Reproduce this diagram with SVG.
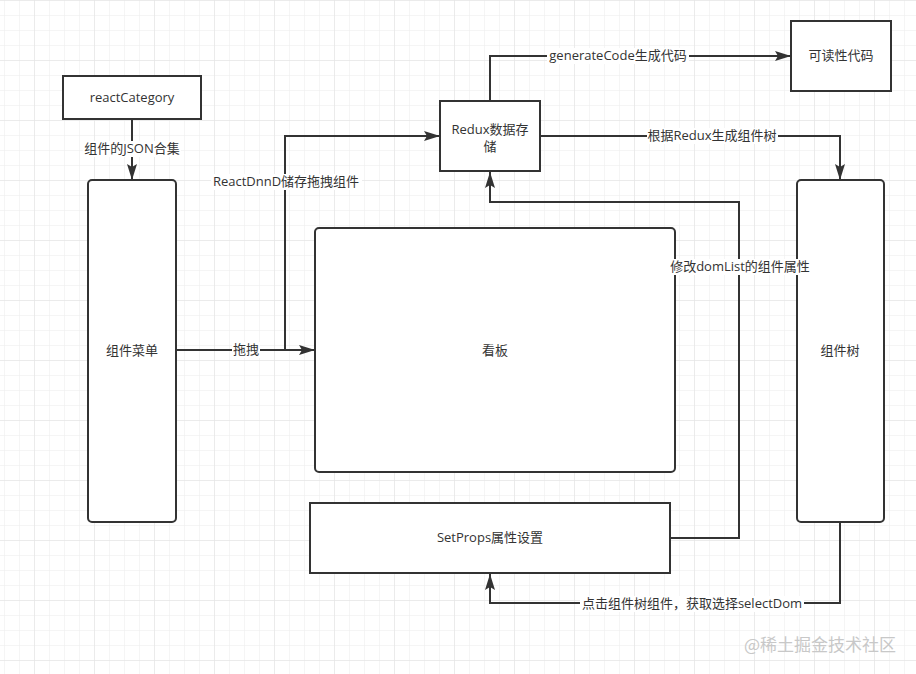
<svg xmlns="http://www.w3.org/2000/svg" width="916" height="674" viewBox="0 0 916 674">
<style>
.box{fill:#fff;stroke:#333;stroke-width:2}
.ln{fill:none;stroke:#333;stroke-width:2}
.t{font-family:"Open Sans","Noto Sans CJK SC",sans-serif;font-size:13px;fill:#333;text-anchor:middle}
.bg{fill:#fff}
</style>
<defs>
<pattern id="minor" width="15" height="15" x="4" y="0" patternUnits="userSpaceOnUse">
<path d="M0,0 H15 M0,0 V15" fill="none" stroke="#ececec" stroke-width="1"/>
</pattern>
<pattern id="major" width="60" height="60" x="34" y="0" patternUnits="userSpaceOnUse">
<path d="M0,0 H60 M0,0 V60" fill="none" stroke="#e2e2e2" stroke-width="1"/>
</pattern>
<marker id="arr" markerWidth="16" markerHeight="10" refX="16" refY="5" orient="auto" markerUnits="userSpaceOnUse">
<path d="M0,0 L16,5 L0,10 L3,5 z" fill="#333"/>
</marker>
</defs>
<rect width="916" height="674" fill="#fff"/>
<rect width="916" height="674" fill="url(#minor)"/>
<rect width="916" height="674" fill="url(#major)"/>

<g id="reactCategory">
<rect class="box" x="63" y="76" width="138" height="43"/>
<text class="t" x="132" y="102">reactCategory</text>
</g>
<g id="menu">
<rect class="box" x="88" y="180" width="88" height="342" rx="4"/>
<text class="t" x="132" y="355">组件菜单</text>
</g>
<g id="redux">
<rect class="box" x="440" y="101" width="100" height="70"/>
<text class="t" x="490" y="134">Redux数据存</text>
<text class="t" x="490" y="151">储</text>
</g>
<g id="code">
<rect class="box" x="791" y="21" width="100" height="70"/>
<text class="t" x="841" y="60">可读性代码</text>
</g>
<g id="board">
<rect class="box" x="315" y="228" width="360" height="244" rx="4"/>
<text class="t" x="495" y="355">看板</text>
</g>
<g id="tree">
<rect class="box" x="797" y="180" width="87" height="342" rx="4"/>
<text class="t" x="840" y="355">组件树</text>
</g>
<g id="setprops">
<rect class="box" x="310" y="503" width="360" height="70"/>
<text class="t" x="490" y="542">SetProps属性设置</text>
</g>

<g id="connectors">
<path class="ln" d="M132,119 V180" marker-end="url(#arr)"/>
<path class="ln" d="M176,350 H315" marker-end="url(#arr)"/>
<path class="ln" d="M285,350 V136 H440" marker-end="url(#arr)"/>
<path class="ln" d="M490,101 V56 H791" marker-end="url(#arr)"/>
<path class="ln" d="M540,136 H840 V180" marker-end="url(#arr)"/>
<path class="ln" d="M670,538 H739 V202 H490 V172" marker-end="url(#arr)"/>
<path class="ln" d="M840,522 V603 H490 V574" marker-end="url(#arr)"/>

<rect class="bg" x="83" y="141" width="98" height="16"/>
<text class="t" x="132" y="153">组件的JSON合集</text>
<rect class="bg" x="232" y="342" width="28" height="16"/>
<text class="t" x="246" y="354">拖拽</text>
<rect class="bg" x="211" y="174" width="151" height="16"/>
<text class="t" x="286" y="186">ReactDnnD储存拖拽组件</text>
<rect class="bg" x="547" y="48" width="142" height="16"/>
<text class="t" x="618" y="60">generateCode生成代码</text>
<rect class="bg" x="647" y="128" width="131" height="16"/>
<text class="t" x="712" y="140">根据Redux生成组件树</text>
<rect class="bg" x="669" y="259" width="142" height="16"/>
<text class="t" x="740" y="271">修改domList的组件属性</text>
<rect class="bg" x="580" y="596" width="224" height="16"/>
<text class="t" x="692" y="608">点击组件树组件，获取选择selectDom</text>
</g>

<text x="896" y="651" font-family="Noto Sans CJK SC, sans-serif" font-size="17" fill="#c8c8c8" text-anchor="end">@稀土掘金技术社区</text>
</svg>
